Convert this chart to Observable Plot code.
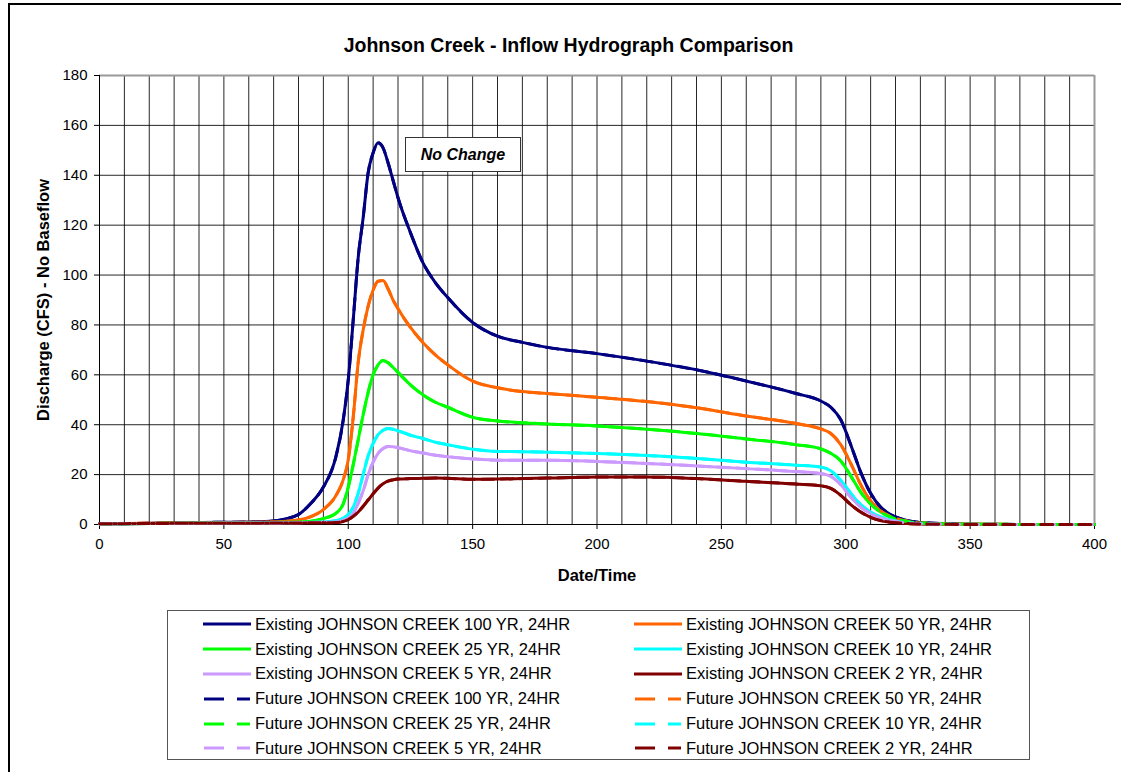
<!DOCTYPE html>
<html><head><meta charset="utf-8">
<script src="https://cdn.jsdelivr.net/npm/d3@7"></script>
<script src="https://cdn.jsdelivr.net/npm/@observablehq/plot@0.6"></script>
<style>
html,body{margin:0;padding:0;background:#fff;overflow:hidden;}
#wrap{position:relative;width:1121px;height:772px;overflow:hidden;font-family:"Liberation Sans",Arial,sans-serif;color:#000;}
#border{position:absolute;left:8px;top:3px;width:1200px;height:900px;border:2px solid #000;box-sizing:border-box;}
#title{position:absolute;left:0;width:1137px;top:34px;text-align:center;font-weight:bold;font-size:19.5px;}
#chart{position:absolute;left:0;top:0;}
#note{position:absolute;left:405px;top:137px;width:116px;height:35px;box-sizing:border-box;border:1.5px solid #333;background:#fff;font-weight:bold;font-style:italic;font-size:16px;display:flex;align-items:center;justify-content:center;}
#legend{position:absolute;left:167px;top:610px;width:863px;height:150px;box-sizing:border-box;border:1px solid #555;display:grid;grid-template-columns:431px 431px;grid-auto-rows:24.8px;padding:1px 0 0 35px;background:#fff;}
.item{display:flex;align-items:center;font-size:16.5px;white-space:nowrap;}
.item svg{margin-right:4px;flex:none;}
g[aria-label="x-axis label"] text, g[aria-label="y-axis label"] text{font-weight:bold;font-size:16.5px;}
</style></head>
<body>
<div id="wrap">
  <div id="border"></div>
  <div id="title">Johnson Creek - Inflow Hydrograph Comparison</div>
  <div id="chart"></div>
  <div id="note">No Change</div>
  <div id="legend"></div>
</div>
<script>
// Time axis (Date/Time units)
const T = [0,20,40,60,70,75,80,85,90,95,98,100,102,104,106,108,110,112,114,116,118,120,125,130,135,140,150,160,170,180,200,220,240,260,280,290,294,298,302,306,310,314,318,322,326,330,340,350,400];
// Discharge (CFS) by return period
const Q100 = [0.3,0.5,0.8,1.0,1.4,2.3,4,8.5,15,27,42,58,82,107,123,141,149,153,151,145,138,131,117,105,97,91,81,75.5,73,71,68.5,65.5,62,57.5,52.5,49.5,47,42,32,21,12.5,7,4,2.3,1.3,0.8,0.3,0.1,0];
const Q50  = [0.3,0.5,0.7,0.9,1.1,1.3,1.8,3.2,6,11.5,18,26,43,65,78,87.5,94,97.5,97.8,94.5,90,86.5,79,73,68,64,57.5,54.8,53.3,52.5,51,49.3,46.8,43.5,40.5,38.3,36.5,32,24.5,16,9.5,5.5,3.2,1.9,1.1,0.6,0.2,0.1,0];
const Q25  = [0.3,0.4,0.6,0.7,0.8,0.9,1.0,1.3,2.4,4.5,8.3,15,24,34,44,53,60,64,65.7,64.8,63,61,56,52,49,47,43,41.5,40.8,40.3,39.5,38.2,36.5,34.3,32,30.3,28.5,25.5,19.5,13,8.2,5,3,1.8,1,0.6,0.2,0.1,0];
const Q10  = [0.3,0.4,0.5,0.6,0.7,0.7,0.8,0.9,1.0,1.5,2.6,4,7,12.5,20,27.5,32.5,36,37.8,38.5,38.2,37.6,35.8,34.5,33,32,30.2,29.3,29.2,29,28.5,27.7,26.5,25,23.8,23,21.5,17.7,12.5,8,5,3,1.9,1,0.6,0.4,0.1,0,0];
const Q5   = [0.3,0.4,0.5,0.6,0.6,0.7,0.7,0.8,0.9,1.0,1.7,2.6,4.4,8.5,13.5,20,25,28.5,30.5,31.3,31.2,30.8,29.6,28.7,27.8,27.2,26.3,25.8,25.8,25.8,25.3,24.5,23.5,22.4,21.2,20.4,19.3,16,11,7,4.4,2.6,1.6,0.9,0.5,0.3,0.1,0,0];
const Q2   = [0.3,0.4,0.5,0.5,0.6,0.6,0.6,0.7,0.7,0.8,1.2,2,3.3,5,7.3,9.8,12.3,14.6,16.3,17.4,17.9,18.2,18.4,18.5,18.6,18.5,18.1,18.2,18.4,18.6,19,19,18.4,17.3,16.2,15.5,14.5,11.7,8,5,2.9,1.6,0.9,0.6,0.3,0.2,0.1,0,0];

const returnPeriods = ["100","50","25","10","5","2"];
const seriesValues = [Q100,Q50,Q25,Q10,Q5,Q2];
const seriesColors = ["#000080","#FF6600","#00FF00","#00FFFF","#CC99FF","#800000"];
const scenarios = ["Existing","Future"];
const xTicks = [0,50,100,150,200,250,300,350,400];
const yTicks = [0,20,40,60,80,100,120,140,160,180];

const rows = [];
const entries = [];
for (const sc of scenarios) {
  returnPeriods.forEach((rp, i) => {
    const name = `${sc} JOHNSON CREEK ${rp} YR, 24HR`;
    entries.push({name, color: seriesColors[i], dashed: sc === "Future"});
    seriesValues[i].forEach((q, j) => rows.push({t: T[j], q, name, color: seriesColors[i], scenario: sc}));
  });
}

const chart = Plot.plot({
  width: 1121, height: 600,
  marginLeft: 99, marginRight: 27, marginTop: 75, marginBottom: 76,
  style: {fontFamily: "'Liberation Sans', Arial, sans-serif", fontSize: "15px", background: "transparent", overflow: "visible", color: "#000"},
  x: {domain: [0, 400], ticks: xTicks, tickSize: 5, tickPadding: 9, label: "Date/Time", labelArrow: "none", labelAnchor: "center", labelOffset: 56},
  y: {domain: [0, 180], ticks: yTicks, tickSize: 5, tickPadding: 7, label: "Discharge (CFS) - No Baseflow", labelArrow: "none", labelAnchor: "center", labelOffset: 62},
  color: {type: "identity"},
  marks: [
    Plot.gridX({interval: 10, stroke: "#000", strokeOpacity: 0.85}),
    Plot.gridY(yTicks, {stroke: "#000", strokeOpacity: 0.85}),
    Plot.ruleY([180], {stroke: "#999", strokeWidth: 2}),
    Plot.ruleX([400], {stroke: "#999", strokeWidth: 2}),
    Plot.ruleX([0], {stroke: "#000"}),
    Plot.ruleY([0], {stroke: "#000"}),
    Plot.line(rows.filter(d => d.scenario === "Existing"), {x: "t", y: "q", z: "name", stroke: "color", strokeWidth: 3, curve: "monotone-x"}),
    Plot.line(rows.filter(d => d.scenario === "Future"), {x: "t", y: "q", z: "name", stroke: "color", strokeWidth: 3, curve: "monotone-x", strokeDasharray: "12,7"})
  ]
});
document.getElementById("chart").appendChild(chart);

const legend = document.getElementById("legend");
for (const e of entries) {
  const div = document.createElement("div");
  div.className = "item";
  const line = e.dashed
    ? `<line x1="1" x2="21" y1="5" y2="5" stroke="${e.color}" stroke-width="3"/><line x1="34" x2="47" y1="5" y2="5" stroke="${e.color}" stroke-width="3"/>`
    : `<line x1="0" x2="48" y1="5" y2="5" stroke="${e.color}" stroke-width="3"/>`;
  div.innerHTML = `<svg width="48" height="10">${line}</svg><span>${e.name}</span>`;
  legend.appendChild(div);
}
</script>
</body></html>
